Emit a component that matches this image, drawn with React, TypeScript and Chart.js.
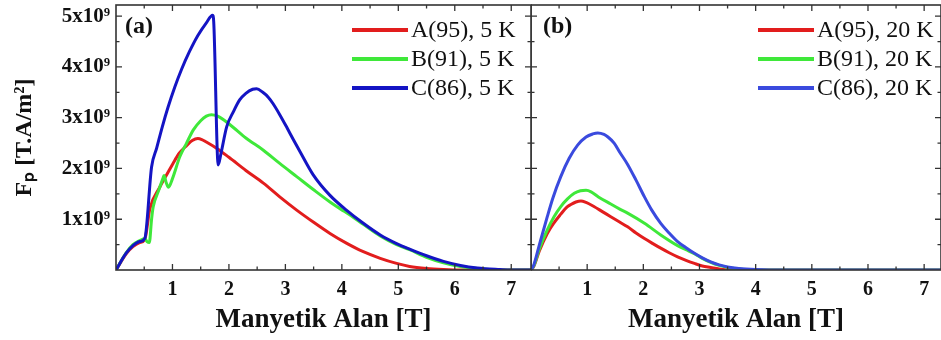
import React, { useEffect, useRef } from "react";
import { Chart, registerables } from "chart.js";

Chart.register(...registerables);

// ---------- Data (x: Manyetik Alan [T], y: Fp in units of 1x10^9 T.A/m^2) ----------
// Panel (a) — 5 K
const fieldA5 = [0, 0.18, 0.3, 0.42, 0.51, 0.6, 0.77, 0.9, 1.01, 1.12, 1.25, 1.35, 1.45, 1.52, 1.6, 1.78, 2.0, 2.3, 2.61, 2.9, 3.2, 3.5, 3.79, 4.08, 4.38, 4.68, 4.97, 5.2, 5.5, 5.8, 6.1, 7.35];
const fpA5 = [0, 0.32, 0.46, 0.54, 0.6, 1.21, 1.62, 1.88, 2.1, 2.3, 2.45, 2.55, 2.59, 2.57, 2.52, 2.4, 2.22, 1.96, 1.71, 1.44, 1.18, 0.94, 0.72, 0.53, 0.36, 0.23, 0.13, 0.07, 0.03, 0.01, 0, 0];

const fieldB5 = [0, 0.18, 0.3, 0.42, 0.51, 0.55, 0.59, 0.63, 0.66, 0.75, 0.83, 0.85, 0.89, 0.93, 1.0, 1.13, 1.25, 1.37, 1.5, 1.6, 1.69, 1.8, 2.02, 2.3, 2.61, 2.9, 3.2, 3.5, 3.79, 4.05, 4.2, 4.38, 4.68, 4.97, 5.2, 5.5, 5.8, 6.1, 6.4, 6.8, 7.35];
const fpB5 = [0, 0.34, 0.5, 0.58, 0.62, 0.56, 0.54, 1.0, 1.25, 1.55, 1.8, 1.86, 1.72, 1.63, 1.8, 2.23, 2.5, 2.76, 2.94, 3.03, 3.06, 3.03, 2.86, 2.6, 2.36, 2.1, 1.84, 1.58, 1.34, 1.15, 1.04, 0.9, 0.67, 0.5, 0.4, 0.25, 0.14, 0.07, 0.03, 0, 0];

const fieldC5 = [0, 0.18, 0.3, 0.42, 0.51, 0.63, 0.72, 0.82, 0.92, 1.04, 1.16, 1.3, 1.45, 1.6, 1.71, 1.73, 1.81, 1.86, 1.96, 2.08, 2.19, 2.3, 2.42, 2.49, 2.6, 2.7, 2.78, 2.9, 3.02, 3.14, 3.26, 3.49, 3.79, 4.08, 4.38, 4.68, 4.97, 5.2, 5.5, 5.8, 6.1, 6.4, 6.8, 7.0, 7.35];
const fpC5 = [0, 0.33, 0.48, 0.56, 0.62, 2.03, 2.4, 2.82, 3.2, 3.6, 3.95, 4.3, 4.62, 4.87, 5.02, 4.9, 2.07, 2.3, 2.82, 3.12, 3.35, 3.48, 3.56, 3.57, 3.5, 3.4, 3.28, 3.06, 2.82, 2.57, 2.33, 1.88, 1.47, 1.18, 0.92, 0.69, 0.52, 0.41, 0.28, 0.17, 0.09, 0.04, 0.01, 0, 0];

// Panel (b) — 20 K
const fieldA20 = [0, 0.05, 0.15, 0.29, 0.41, 0.53, 0.63, 0.71, 0.8, 0.89, 0.98, 1.12, 1.27, 1.42, 1.57, 1.72, 1.87, 2.02, 2.17, 2.31, 2.46, 2.61, 2.76, 2.91, 3.05, 3.2, 3.35, 3.55, 7.3];
const fpA20 = [0, 0.07, 0.38, 0.72, 0.93, 1.1, 1.23, 1.29, 1.34, 1.36, 1.33, 1.25, 1.15, 1.05, 0.95, 0.85, 0.73, 0.62, 0.52, 0.43, 0.34, 0.26, 0.19, 0.13, 0.08, 0.05, 0.02, 0, 0];

const fieldB20 = [0, 0.05, 0.15, 0.29, 0.41, 0.53, 0.65, 0.77, 0.88, 0.98, 1.07, 1.2, 1.42, 1.58, 1.72, 2.02, 2.31, 2.61, 2.76, 2.91, 3.05, 3.2, 3.35, 3.5, 3.7, 3.96, 7.3];
const fpB20 = [0, 0.08, 0.42, 0.79, 1.05, 1.25, 1.4, 1.51, 1.56, 1.57, 1.54, 1.44, 1.3, 1.2, 1.12, 0.92, 0.69, 0.48, 0.4, 0.32, 0.23, 0.15, 0.09, 0.05, 0.02, 0, 0];

const fieldC20 = [0, 0.05, 0.15, 0.29, 0.39, 0.53, 0.68, 0.83, 0.98, 1.1, 1.19, 1.3, 1.37, 1.48, 1.58, 1.72, 1.87, 2.02, 2.15, 2.31, 2.45, 2.61, 2.76, 2.91, 3.05, 3.2, 3.35, 3.5, 3.7, 4.0, 4.5, 7.3];
const fpC20 = [0, 0.1, 0.5, 1.05, 1.42, 1.84, 2.2, 2.46, 2.62, 2.68, 2.7, 2.67, 2.62, 2.5, 2.32, 2.08, 1.77, 1.44, 1.18, 0.92, 0.74, 0.56, 0.44, 0.33, 0.24, 0.16, 0.1, 0.06, 0.03, 0.01, 0, 0];

const labels5K = ["A(95), 5 K", "B(91), 5 K", "C(86), 5 K"];
const labels20K = ["A(95), 20 K", "B(91), 20 K", "C(86), 20 K"];

const xTickValues = [1, 2, 3, 4, 5, 6, 7];
const yTickValues = [1, 2, 3, 4, 5];
const xTickMarks = [0.5, 1, 1.5, 2, 2.5, 3, 3.5, 4, 4.5, 5, 5.5, 6, 6.5, 7];
const yTickMarks = [0.5, 1, 1.5, 2, 2.5, 3, 3.5, 4, 4.5, 5];

const xTitle = "Manyetik Alan [T]";
const yTitle = "Fₚ [T.A/m²]";

// ---------- Styling ----------
const SERIF = "'Liberation Serif', 'Times New Roman', serif";
const RED = "#e21d1d";
const GREEN = "#3fe83a";
const BLUE_A = "#1414c4";
const BLUE_B = "#3a4ade";
const AXIS = "#333333";

const decorPlugin = {
  id: "panelDecor",
  afterDatasetsDraw(chart: any, _args: any, opts: any) {
    const { ctx, chartArea: ca, scales } = chart;
    const xs = scales.x;
    const ys = scales.y;
    ctx.save();
    // frame
    ctx.strokeStyle = AXIS;
    ctx.lineWidth = 1.6;
    ctx.strokeRect(ca.left, ca.top, ca.right - ca.left, ca.bottom - ca.top);
    // inward tick marks
    ctx.lineWidth = 1.3;
    ctx.beginPath();
    for (const v of xTickMarks) {
      const px = xs.getPixelForValue(v);
      if (px > ca.right) continue;
      const len = Number.isInteger(v) ? 6 : 3.5;
      ctx.moveTo(px, ca.bottom);
      ctx.lineTo(px, ca.bottom - len);
      ctx.moveTo(px, ca.top);
      ctx.lineTo(px, ca.top + len);
    }
    for (const v of yTickMarks) {
      const py = ys.getPixelForValue(v);
      const len = Number.isInteger(v) ? 6 : 3.5;
      ctx.moveTo(ca.left, py);
      ctx.lineTo(ca.left + len, py);
      ctx.moveTo(ca.right, py);
      ctx.lineTo(ca.right - len, py);
    }
    ctx.stroke();
    // panel label
    ctx.fillStyle = "#111";
    ctx.font = `bold 24px ${SERIF}`;
    ctx.textBaseline = "middle";
    ctx.textAlign = "left";
    ctx.fillText(opts.panel, ca.left + opts.labelX, ca.top + opts.labelY);
    // legend
    ctx.font = `24px ${SERIF}`;
    chart.data.datasets.forEach((ds: any, i: number) => {
      const y = ca.top + opts.legendY + i * opts.rowH;
      const x0 = ca.left + opts.legendX;
      ctx.strokeStyle = ds.borderColor;
      ctx.lineWidth = 4;
      ctx.beginPath();
      ctx.moveTo(x0, y);
      ctx.lineTo(x0 + 56, y);
      ctx.stroke();
      ctx.fillStyle = "#111";
      ctx.fillText(ds.label, x0 + 59, y + 1);
    });
    ctx.restore();
  },
};

function pts(xs: number[], ys: number[]) {
  return xs.map((x, i) => ({ x, y: ys[i] }));
}

function makeConfig(panel: "a" | "b"): any {
  const isA = panel === "a";
  const labels = isA ? labels5K : labels20K;
  const series = isA
    ? [pts(fieldA5, fpA5), pts(fieldB5, fpB5), pts(fieldC5, fpC5)]
    : [pts(fieldA20, fpA20), pts(fieldB20, fpB20), pts(fieldC20, fpC20)];
  const colors = [RED, GREEN, isA ? BLUE_A : BLUE_B];
  const orders = [2, 1, 0];
  return {
    type: "line",
    data: {
      datasets: series.map((d, i) => ({
        label: labels[i],
        data: d,
        borderColor: colors[i],
        backgroundColor: colors[i],
        borderWidth: 3,
        pointRadius: 0,
        fill: false,
        cubicInterpolationMode: "monotone",
        order: orders[i],
      })),
    },
    options: {
      animation: false,
      responsive: false,
      devicePixelRatio: 1,
      layout: { padding: { top: 5, right: isA ? 1 : 0, left: 0, bottom: 0 } },
      plugins: {
        legend: { display: false },
        tooltip: { enabled: false },
        panelDecor: isA
          ? { panel: "(a)", labelX: 9, labelY: 22, legendX: 236, legendY: 25, rowH: 29 }
          : { panel: "(b)", labelX: 12, labelY: 22, legendX: 227, legendY: 25, rowH: 29 },
      },
      scales: {
        x: {
          type: "linear",
          min: 0,
          max: isA ? 7.35 : 7.3,
          grid: { display: false, drawTicks: false },
          border: { display: false },
          afterBuildTicks: (s: any) => {
            s.ticks = xTickValues.map((v) => ({ value: v }));
          },
          ticks: {
            color: "#111",
            padding: 8,
            maxRotation: 0,
            autoSkip: false,
            font: { family: SERIF, weight: "bold", size: 20 },
          },
          title: {
            display: true,
            text: xTitle,
            color: "#111",
            font: { family: SERIF, weight: "bold", size: 27 },
            padding: { top: 2, bottom: 4 },
          },
          afterFit: (s: any) => {
            s.height = 70;
            s.paddingLeft = 0;
            s.paddingRight = 0;
          },
        },
        y: {
          type: "linear",
          min: 0,
          max: 5.22,
          display: isA,
          grid: { display: false, drawTicks: false },
          border: { display: false },
          afterBuildTicks: (s: any) => {
            s.ticks = yTickValues.map((v) => ({ value: v }));
          },
          ticks: {
            color: "#111",
            padding: 6,
            font: { family: SERIF, weight: "bold", size: 21 },
            callback: (v: any) => `${v}x10⁹`,
          },
          title: {
            display: true,
            text: yTitle,
            color: "#111",
            font: { family: SERIF, weight: "bold", size: 24 },
            padding: { top: 10, bottom: 0 },
          },
          afterFit: (s: any) => {
            s.width = isA ? 116 : 0;
            s.paddingTop = 0;
            s.paddingBottom = 0;
          },
        },
      },
    },
    plugins: [decorPlugin],
  };
}

function Panel({ panel, left, width }: { panel: "a" | "b"; left: number; width: number }) {
  const ref = useRef<HTMLCanvasElement | null>(null);
  useEffect(() => {
    if (!ref.current) return;
    const chart = new Chart(ref.current, makeConfig(panel));
    return () => chart.destroy();
  }, [panel]);
  return (
    <canvas
      ref={ref}
      width={width}
      height={340}
      style={{ position: "absolute", left, top: 0, width, height: 340, display: "block" }}
    />
  );
}

export default function App() {
  return (
    <div
      style={{
        position: "absolute",
        left: 0,
        top: 0,
        width: 941,
        height: 340,
        background: "#fff",
        overflow: "hidden",
      }}
    >
      <Panel panel="a" left={0} width={532} />
      <Panel panel="b" left={531} width={410} />
    </div>
  );
}
